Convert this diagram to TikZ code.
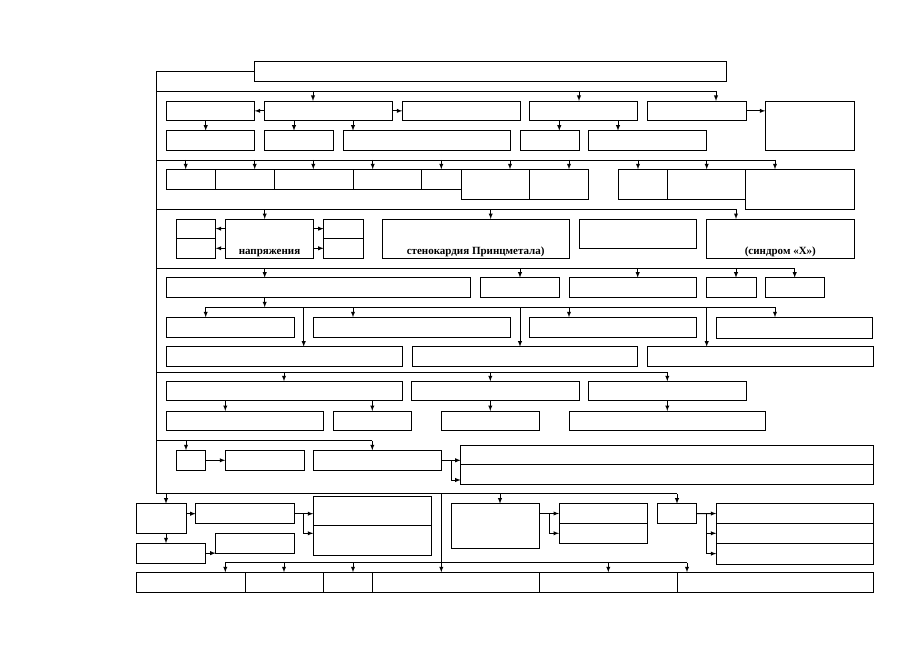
\documentclass[tikz,border=0pt]{standalone}
\usepackage{fontspec}
\setmainfont{Liberation Serif}
\usetikzlibrary{arrows,positioning}

\begin{document}
\begin{tikzpicture}[x=1pt,y=-1pt,line width=.9pt]
\tikzstyle{box}=[draw, rectangle, anchor=north west, inner sep=0pt, outer sep=0pt]
\tikzstyle{lbl}=[inner sep=0pt, font=\bfseries\fontsize{11}{11}\selectfont]
\useasboundingbox (0,0) rectangle (919,650);
% top
\draw (254.7,61.7) node (top) [box,minimum width=471.6,minimum height=19.3] {};
% block 1
\draw (166,101) node (b1) [box,minimum width=88.7,minimum height=19.7] {};
\draw (264.3,101) node (b2) [box,minimum width=128,minimum height=19.7] {};
\draw (402.3,101) node (b3) [box,minimum width=117.7,minimum height=19.7] {};
\draw (529.7,101) node (b4) [box,minimum width=108,minimum height=19.7] {};
\draw (647.3,101) node (b5) [box,minimum width=98.7,minimum height=19.7] {};
\draw (765.3,101) node (b6) [box,minimum width=88.7,minimum height=49.3] {};
\draw (166,130.7) node (c1) [box,minimum width=88.7,minimum height=19.6] {};
\draw (264.3,130.7) node (c2) [box,minimum width=69,minimum height=19.6] {};
\draw (343.3,130.7) node (c3) [box,minimum width=167,minimum height=19.6] {};
\draw (520,130.7) node (c4) [box,minimum width=59,minimum height=19.6] {};
\draw (588.7,130.7) node (c5) [box,minimum width=118,minimum height=19.6] {};
% block 2
\draw (166,169.3) node (d1) [box,minimum width=49.3,minimum height=20] {};
\draw (215.3,169.3) node (d2) [box,minimum width=59,minimum height=20] {};
\draw (274.3,169.3) node (d3) [box,minimum width=78.7,minimum height=20] {};
\draw (353,169.3) node (d4) [box,minimum width=68.7,minimum height=20] {};
\draw (421.7,169.3) node (d5) [box,minimum width=39.3,minimum height=20] {};
\draw (461,169.3) node (d6) [box,minimum width=68.7,minimum height=30] {};
\draw (529.7,169.3) node (d7) [box,minimum width=59,minimum height=30] {};
\draw (618,169.3) node (e1) [box,minimum width=49.3,minimum height=30] {};
\draw (667.3,169.3) node (e2) [box,minimum width=78.4,minimum height=30] {};
\draw (745.7,169.3) node (e3) [box,minimum width=108.3,minimum height=40] {};
% block 3
\draw (176,219) node (fl1) [box,minimum width=39.7,minimum height=19.3] {};
\draw (176,238.3) node (fl2) [box,minimum width=39.7,minimum height=20] {};
\draw (225.3,219) node (f) [box,minimum width=88.4,minimum height=39.3] {};
\draw (323.7,219) node (fr1) [box,minimum width=39.3,minimum height=19.3] {};
\draw (323.7,238.3) node (fr2) [box,minimum width=39.3,minimum height=20] {};
\draw (382.3,219) node (g) [box,minimum width=186.7,minimum height=39.3] {};
\draw (579,219) node (h) [box,minimum width=117.7,minimum height=29.3] {};
\draw (706.7,219) node (i) [box,minimum width=147.3,minimum height=39.3] {};
\node[lbl, above=1pt of f.south] {напряжения};
\node[lbl, above=1pt of g.south] {стенокардия Принцметала)};
\node[lbl, above=1pt of i.south] {(синдром «X»)};
% block 4
\draw (166,277.7) node (j1) [box,minimum width=304.7,minimum height=20] {};
\draw (480.7,277.7) node (j2) [box,minimum width=79,minimum height=20] {};
\draw (569.3,277.7) node (j3) [box,minimum width=127.4,minimum height=20] {};
\draw (706.7,277.7) node (j4) [box,minimum width=49.3,minimum height=20] {};
\draw (765.3,277.7) node (j5) [box,minimum width=59.4,minimum height=20] {};
\draw (166,317.3) node (k1) [box,minimum width=128,minimum height=19.7] {};
\draw (313.3,317.3) node (k2) [box,minimum width=197,minimum height=19.7] {};
\draw (529.7,317.3) node (k3) [box,minimum width=167,minimum height=19.7] {};
\draw (716.3,317.3) node (k4) [box,minimum width=156.4,minimum height=21] {};
\draw (166,346.7) node (l1) [box,minimum width=236,minimum height=19.6] {};
\draw (412,346.7) node (l2) [box,minimum width=225.7,minimum height=19.6] {};
\draw (647.7,346.7) node (l3) [box,minimum width=225.7,minimum height=19.6] {};
% block 5
\draw (166,381.3) node (m1) [box,minimum width=236,minimum height=19.4] {};
\draw (411.7,381.3) node (m2) [box,minimum width=167.3,minimum height=19.4] {};
\draw (588.7,381.3) node (m3) [box,minimum width=157.3,minimum height=19.4] {};
\draw (166,411) node (n1) [box,minimum width=157.7,minimum height=19.7] {};
\draw (333.3,411) node (n2) [box,minimum width=78.4,minimum height=19.7] {};
\draw (441.3,411) node (n3) [box,minimum width=98.4,minimum height=19.7] {};
\draw (569,411) node (n4) [box,minimum width=196.7,minimum height=19.7] {};
% block 6
\draw (176,450.3) node (o1) [box,minimum width=29.7,minimum height=20] {};
\draw (225.3,450.3) node (o2) [box,minimum width=78.7,minimum height=20] {};
\draw (313.3,450.3) node (o3) [box,minimum width=128,minimum height=20] {};
\draw (460.7,445) node (r1) [box,minimum width=413,minimum height=19.3] {};
\draw (460.7,464.3) node (r2) [box,minimum width=413,minimum height=19.7] {};
% block 7
\draw (136.7,503.7) node (p1) [box,minimum width=49.3,minimum height=29.6] {};
\draw (195.7,503.7) node (p2) [box,minimum width=98.6,minimum height=20] {};
\draw (136.7,543.3) node (p3) [box,minimum width=69,minimum height=19.7] {};
\draw (215.7,533.3) node (p5) [box,minimum width=78.6,minimum height=19.7] {};
\draw (313.3,496) node (p4a) [box,minimum width=118.4,minimum height=29.3] {};
\draw (313.3,525.3) node (p4b) [box,minimum width=118.4,minimum height=30] {};
\draw (451,503.7) node (s1) [box,minimum width=88.7,minimum height=44.6] {};
\draw (559,503.7) node (s2a) [box,minimum width=88.7,minimum height=19.6] {};
\draw (559,523.3) node (s2b) [box,minimum width=88.7,minimum height=20] {};
\draw (657.3,503.7) node (t1) [box,minimum width=39.4,minimum height=20] {};
\draw (716.3,503.7) node (ua) [box,minimum width=157.4,minimum height=19.6] {};
\draw (716.3,523.3) node (ub) [box,minimum width=157.4,minimum height=20] {};
\draw (716.3,543.3) node (uc) [box,minimum width=157.4,minimum height=20.7] {};
% bottom row
\draw (136.7,572.3) node (q1) [box,minimum width=108.3,minimum height=20] {};
\draw (245,572.3) node (q2) [box,minimum width=78.7,minimum height=20] {};
\draw (323.7,572.3) node (q3) [box,minimum width=48.6,minimum height=20] {};
\draw (372.3,572.3) node (q4) [box,minimum width=167.4,minimum height=20] {};
\draw (539.7,572.3) node (q5) [box,minimum width=137.3,minimum height=20] {};
\draw (677,572.3) node (q6) [box,minimum width=196.7,minimum height=20] {};

% trunk and section lines
\coordinate (tr) at (156.5,493.7);
\draw (top.west) -| (tr) -- (677,493.7);
\draw (156.5,91) -- (716,91);
\draw (156.5,160) -- (775,160);
\draw (156.5,209.3) -- (736,209.3);
\draw (156.5,268.3) -- (794.7,268.3);
\draw (156.5,372) -- (667.3,372);
\draw (156.5,440.7) -- (372.3,440.7);
\draw (205.7,307.3) -- (775,307.3);
\draw (225.3,562.7) -- (687,562.7);
% drops from the lines
\foreach \x/\n in {313/b2,579/b4,716/b5} \draw[-latex] (\x,91) -- (\n.north -| \x,0);
\foreach \x/\n in {185.7/d1,254.7/d2,313.3/d3,372.7/d4,441.3/d5,510/d6,569/d7,638/e1,706.7/e2,775/e3}
  \draw[-latex] (\x,160) -- (\n.north -| \x,0);
\foreach \x/\n in {264.7/f,490.7/g,736/i} \draw[-latex] (\x,209.3) -- (\n.north -| \x,0);
\foreach \x/\n in {264.7/j1,520/j2,637.7/j3,736/j4,794.7/j5} \draw[-latex] (\x,268.3) -- (\n.north -| \x,0);
\foreach \x/\n in {205.7/k1,353/k2,569/k3,775/k4,303.7/l1,520/l2,706.7/l3} \draw[-latex] (\x,307.3) -- (\n.north -| \x,0);
\foreach \x/\n in {284/m1,490.3/m2,667.3/m3} \draw[-latex] (\x,372) -- (\n.north -| \x,0);
\foreach \x/\n in {186/o1,372.3/o3} \draw[-latex] (\x,440.7) -- (\n.north -| \x,0);
\foreach \x/\n in {166/p1,500/s1,677/t1,441.3/q4} \draw[-latex] (\x,493.7) -- (\n.north -| \x,0);
\foreach \x/\n in {225.3/q1,284/q2,353/q3,608.3/q5,687/q6} \draw[-latex] (\x,562.7) -- (\n.north -| \x,0);
% box to box
\foreach \x/\a/\b in {205.7/b1/c1,294/b2/c2,353/b2/c3,559.3/b4/c4,618/b4/c5,225.3/m1/n1,372.3/m1/n2,490.3/m2/n3,667.3/m3/n4,166/p1/p3}
  \draw[-latex] (\a.south -| \x,0) -- (\b.north -| \x,0);
\draw[-latex] (j1.south -| 264.7,0) -- (264.7,307.3);
\draw[-latex] (b2.west) -- (b1.east);
\draw[-latex] (b2.east) -- (b3.west);
\draw[-latex] (b5.east) -- (b5.east -| b6.west);
\draw[-latex] (f.west |- fl1) -- (fl1.east);
\draw[-latex] (f.west |- fl2) -- (fl2.east);
\draw[-latex] (f.east |- fr1) -- (fr1.west);
\draw[-latex] (f.east |- fr2) -- (fr2.west);
\draw[-latex] (o1.east) -- (o2.west);
\draw[-latex] (o3.east) -- (o3.east -| r1.west);
\coordinate (jo) at (451,460.3);
\draw[-latex] (jo) |- (r2.west |- 0,480);
\draw[-latex] (p1.east |- p2) -- (p2.west);
\draw[-latex] (p3.east) -- (p3.east -| p5.west);
\draw[-latex] (p2.east) -- (p2.east -| p4a.west);
\coordinate (jp) at (303.3,513.7);
\draw[-latex] (jp) |- (p4b.west |- 0,533.3);
\draw[-latex] (s1.east |- s2a) -- (s2a.west);
\coordinate (js) at (549.3,513.5);
\draw[-latex] (js) |- (s2b.west);
\draw[-latex] (t1.east) -- (ua.west);
\coordinate (jt) at (706.7,513.6);
\draw[-latex] (jt) |- (ub.west);
\draw[-latex] (jt) |- (uc.west);
\end{tikzpicture}
\end{document}
